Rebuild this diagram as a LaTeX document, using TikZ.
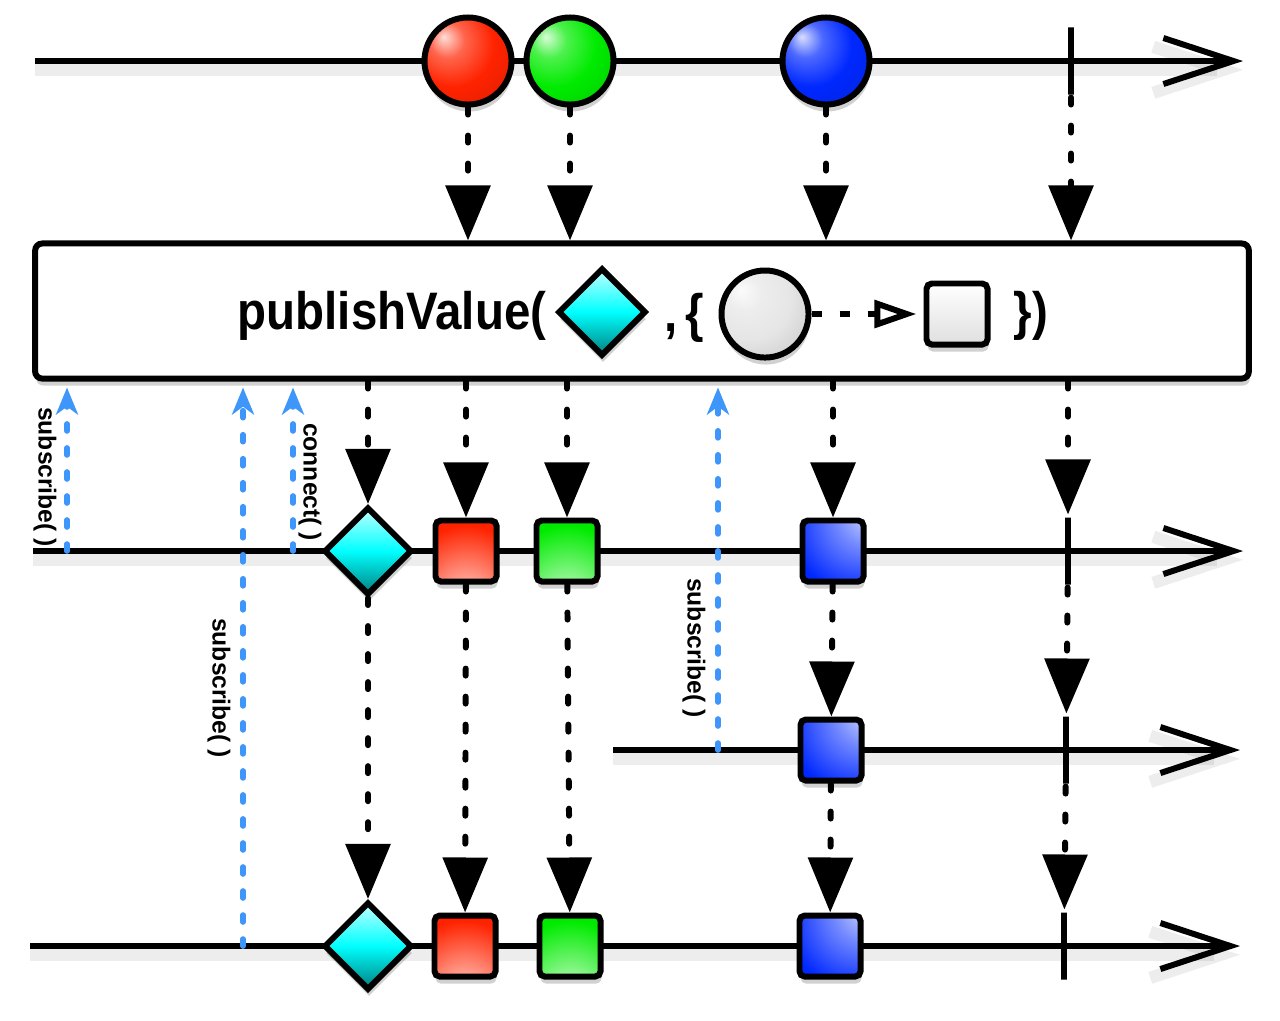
\documentclass[tikz,border=0pt]{standalone}
\usepackage{fontspec}
\setsansfont{Liberation Sans}
\usepackage{xcolor}
\usepackage{tikz}
\usetikzlibrary{arrows.meta}
\usetikzlibrary{shapes.geometric}
\usetikzlibrary{shadows}
\usetikzlibrary{backgrounds}
\definecolor{callblue}{RGB}{62,150,250}
\definecolor{vred}{RGB}{255,35,0}
\definecolor{vgreen}{RGB}{0,235,0}
\definecolor{vblue}{RGB}{0,40,255}
\definecolor{vcyan}{RGB}{0,255,255}
\colorlet{marblecol}{vred}
\colorlet{itemcol}{vred}
\pgfdeclareradialshading[marblecol]{marble}{\pgfpoint{-14bp}{14bp}}{%
  color(0bp)=(marblecol!15!white); color(10bp)=(marblecol!70!white);
  color(24bp)=(marblecol); color(45bp)=(marblecol!85!black);
  color(70bp)=(marblecol!55!black)}
\pgfdeclareradialshading[itemcol]{itemlow}{\pgfpoint{0bp}{-50bp}}{%
  color(0bp)=(itemcol!10!white); color(22bp)=(itemcol!50!white);
  color(48bp)=(itemcol); color(75bp)=(itemcol!90!black);
  color(105bp)=(itemcol!70!black)}
\pgfdeclareradialshading[itemcol]{itemhigh}{\pgfpoint{35bp}{35bp}}{%
  color(0bp)=(itemcol!10!white); color(25bp)=(itemcol!55!white);
  color(55bp)=(itemcol); color(100bp)=(itemcol!85!black);
  color(130bp)=(itemcol!60!black)}

\begin{document}
\begin{tikzpicture}[x=0.01cm, y=-0.01cm,
    timeline/.style={line width=1.7pt, -{Straight Barb[length=0.7cm, width=0.46cm]},
      preaction={draw=black, opacity=0.07, line width=3.5pt, transform canvas={yshift=-2.5pt}}},
    shadowed/.style={drop shadow={shadow xshift=0.01cm, shadow yshift=-0.07cm, opacity=0.18, fill=black}},
    marble/.style={circle, draw, line width=1.7pt, minimum size=0.87cm, inner sep=0pt, shadowed, shading=marble},
    marblecolor/.code={\colorlet{marblecol}{#1}},
    item/.style={rectangle, draw, line width=1.7pt, rounded corners=1.5pt, minimum size=0.61cm, inner sep=0pt, shadowed},
    gem/.style={diamond, draw, line width=1.7pt, minimum width=0.88cm, minimum height=0.88cm, aspect=1, inner sep=0pt, shadowed, top color=vcyan!25!white, bottom color=vcyan!50!black, middle color=vcyan},
    redfill/.style={shading=itemlow, /utils/exec={\colorlet{itemcol}{vred}}},
    greenfill/.style={shading=itemlow, /utils/exec={\colorlet{itemcol}{vgreen}}},
    bluefill/.style={shading=itemhigh, /utils/exec={\colorlet{itemcol}{vblue}}},
    tick/.style={draw, line width=1.7pt, minimum width=0pt, minimum height=0.67cm, inner sep=0pt},
    flow/.style={line width=1.7pt, line cap=round, dash pattern=on 0.07cm off 0.21cm, -{Triangle[width=0.44cm, length=0.55cm]}},
    call/.style={draw=callblue, line width=1.6pt, line cap=round, dash pattern=on 0.07cm off 0.17cm, -{Stealth[length=0.27cm, width=0.22cm, inset=0.08cm]}, shorten >=0.06cm},
    calllabel/.style={font=\sffamily\bfseries\fontsize{7pt}{8pt}\selectfont, rotate=-90, inner sep=0pt},
    bigtext/.style={font=\sffamily\bfseries\fontsize{15pt}{18pt}\selectfont, inner sep=0pt}
  ]
  \useasboundingbox (0,0) rectangle (1280,1020);

  % source stream
  \node[marble, marblecolor=vred] (m1) at (468,61) {};
  \node[marble, marblecolor=vgreen] (m2) at (570,61) {};
  \node[marble, marblecolor=vblue] (m3) at (826,61) {};
  \node[tick] (tk1) at (1071,61) {};
  \coordinate (in1) at (35,61);
  \coordinate (out1) at (1243,61);

  % operator box
  \node[draw, line width=1.7pt, rounded corners=2pt, minimum width=12.13cm, minimum height=1.35cm, fill=white, shadowed] (pv) at (642,311) {};
  \node[bigtext, anchor=east] (pvname) at (547,316) {\scalebox{0.9}[1]{publishValue(}};
  \node[gem] (pd) at (602,312) {};
  \node[bigtext] (pcomma) at (684,318) {\scalebox{0.9}[1]{,\,\{}};
  \node[marble, marblecolor=white!90!black] (pc) at (765,314) {};
  \node[item, top color=white, bottom color=gray!25] (ps) at (957,314) {};
  \node[bigtext] (pclose) at (1031,316) {\scalebox{0.9}[1]{\})}};
  \draw[line width=1.7pt, dash pattern=on 0.1cm off 0.18cm, -{Triangle[open, width=0.27cm, length=0.42cm]}, shorten >=0.07cm] (pc) -- (ps);

  % first subscriber
  \node[gem] (d2) at (368,551) {};
  \node[item, redfill] (r2) at (466,551) {};
  \node[item, greenfill] (g2) at (567,551) {};
  \node[item, bluefill] (b2) at (833,551) {};
  \node[tick] (tk2) at (1068,551) {};
  \coordinate (in2) at (33,551);
  \coordinate (out2) at (1243,551);

  % late subscriber
  \node[item, bluefill] (b3) at (831,750) {};
  \node[tick] (tk3) at (1066,750) {};
  \coordinate (in3) at (613,750);
  \coordinate (out3) at (1240,750);

  % early subscriber
  \node[gem] (d4) at (368,946) {};
  \node[item, redfill] (r4) at (465,946) {};
  \node[item, greenfill] (g4) at (570,946) {};
  \node[item, bluefill] (b4) at (830,946) {};
  \node[tick] (tk4) at (1064,946) {};
  \coordinate (in4) at (30,946);
  \coordinate (out4) at (1240,946);

  \begin{scope}[on background layer]
    \fill[white] (0,0) rectangle (1280,1020);
    \draw[timeline] (in1) -- (out1);
    \draw[timeline] (in2) -- (out2);
    \draw[timeline] (in3) -- (out3);
    \draw[timeline] (in4) -- (out4);
  \end{scope}

  % emissions
  \draw[flow] (m1) -- (m1 |- pv.north);
  \draw[flow] (m2) -- (m2 |- pv.north);
  \draw[flow] (m3) -- (m3 |- pv.north);
  \draw[flow] (tk1) -- (tk1 |- pv.north);
  \draw[flow] (d2 |- pv.south) -- (d2);
  \draw[flow] (r2 |- pv.south) -- (r2);
  \draw[flow] (g2 |- pv.south) -- (g2);
  \draw[flow] (b2 |- pv.south) -- (b2);
  \draw[flow] (tk2 |- pv.south) -- (tk2);
  \draw[flow] (d2) -- (d4);
  \draw[flow] (r2) -- (r4);
  \draw[flow] (g2) -- (g4);
  \draw[flow] (b2) -- (b3);
  \draw[flow] (b3) -- (b4);
  \draw[flow] (tk2) -- (tk3);
  \draw[flow] (tk3) -- (tk4);

  % calls
  \coordinate (sub1) at (67,551);
  \coordinate (con) at (293,551);
  \coordinate (sub2) at (243,946);
  \coordinate (sub3) at (718,750);
  \draw[call] (sub1) -- (sub1 |- pv.south);
  \draw[call] (con) -- (con |- pv.south);
  \draw[call] (sub2) -- (sub2 |- pv.south);
  \draw[call] (sub3) -- (sub3 |- pv.south);
  \node[calllabel] (sub1label) at (45,477) {subscribe( )};
  \node[calllabel] (conlabel) at (310,482) {connect( )};
  \node[calllabel] (sub2label) at (219,688) {subscribe( )};
  \node[calllabel] (sub3label) at (694,648) {subscribe( )};
\end{tikzpicture}
\end{document}
